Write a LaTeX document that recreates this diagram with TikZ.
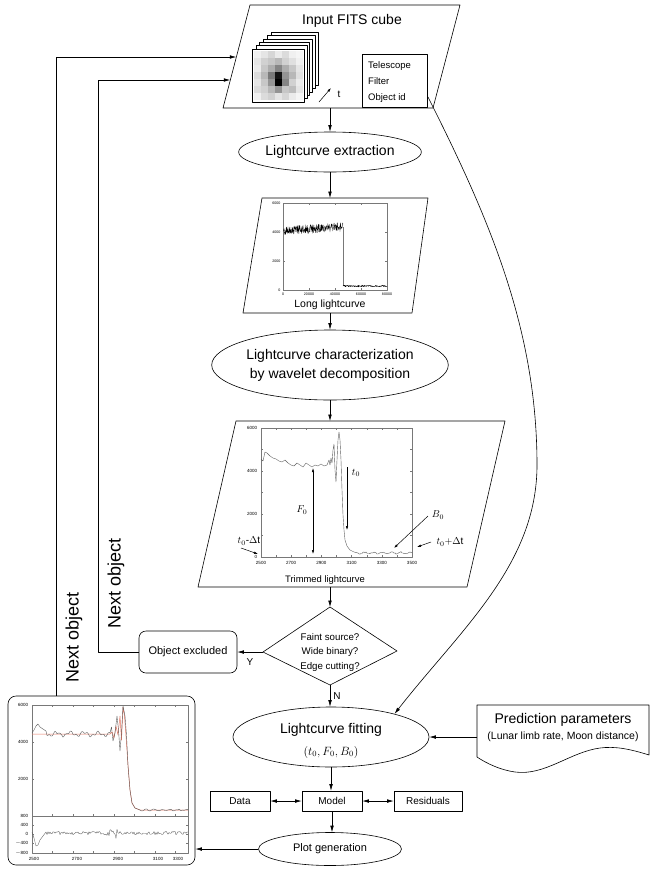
\documentclass[tikz,border=0pt]{standalone}
\usepackage{fontspec}
\setmainfont{Liberation Sans}
\usetikzlibrary{shapes.geometric,arrows.meta,calc}
\definecolor{modelred}{RGB}{232,120,100}
\definecolor{plotgray}{RGB}{120,120,120}
\definecolor{curvegray}{RGB}{95,95,95}
\newcommand{\myfs}[2]{\fontsize{#1}{#2}\selectfont}
\tikzset{
  lw/.style={line width=0.6pt},
  arr/.style={lw,-{Latex[length=6.5pt,width=3.6pt]}},
  darr/.style={lw,{Latex[length=6.5pt,width=3.6pt]}-{Latex[length=6.5pt,width=3.6pt]}},
  sarr/.style={line width=0.5pt,-{Latex[length=4pt,width=2.4pt]}},
  sdarr/.style={line width=0.5pt,{Latex[length=4pt,width=2.4pt]}-{Latex[length=4pt,width=2.4pt]}},
  ell/.style={ellipse,draw,lw,inner sep=0pt},
  smallbox/.style={rectangle,draw,lw,inner sep=0pt,minimum height=20pt,font=\myfs{10}{12}},
  tl/.style={font=\myfs{4.5}{5},inner sep=0.6pt},
  ttl/.style={font=\myfs{3.6}{4},inner sep=0.5pt},
  frame/.style={draw=plotgray,line width=0.35pt},
  tick/.style={draw=plotgray,line width=0.25pt},
  txt/.style={inner sep=0pt},
}
\begin{document}
\begin{tikzpicture}[x=1pt,y=-1pt,line join=round]
\useasboundingbox (0,0) rectangle (653,873);
\fill[white] (0,0) rectangle (653,873);

% ---------------- Input FITS cube ----------------
\draw[lw] (250,5) -- (460,5) -- (433,108) -- (223,108) -- cycle;
\node[txt,font=\myfs{14}{16}] (fitstitle) at (352,21) {Input FITS cube};
\coordinate (fitsS) at (330,108);
\coordinate (fitsL1) at (236.4,57);
\coordinate (fitsL2) at (230.3,80);
\coordinate (curveStart) at (428,97);
\foreach \k in {5,4,3,2,1} {
  \filldraw[fill=white,draw=black,line width=0.5pt] ({252+3.8*\k},{49-3.4*\k}) rectangle ({304+2.8*\k},{102-3.4*\k});
}
\filldraw[fill=white,draw=black,line width=0.5pt] (252,49) rectangle (304,102);
\foreach \v [count=\n from 0] in {6,10,16,8,14,6,4, 10,18,22,28,18,12,6, 8,22,32,48,32,22,10, 14,28,52,92,42,28,12, 10,22,42,100,48,18,8, 14,18,28,42,22,26,10, 6,14,18,10,16,8,4} {
  \pgfmathtruncatemacro{\rr}{floor(\n/7)}
  \pgfmathtruncatemacro{\cc}{\n-7*\rr}
  \fill[black!\v] ({253.5+\cc*7.0},{50.5+\rr*7.14}) rectangle ++(7.0,7.14);
}
\coordinate (ta) at (319,102);
\coordinate (tb) at (331,88);
\draw[sarr] (ta) -- (tb);
\node[txt,font=\myfs{10}{12}] (tlab) at (339,94) {t};
\node[draw,lw,minimum width=65pt,minimum height=53pt,inner sep=0pt] (info) at (394.5,80.5) {};
\node[txt,anchor=west,font=\myfs{9.5}{11}] (tel) at (368,66) {Telescope};
\node[txt,anchor=west,font=\myfs{9.5}{11}] (fil) at (368,81) {Filter};
\node[txt,anchor=west,font=\myfs{9.5}{11}] (oid) at (368,98) {Object id};

% ---------------- Lightcurve extraction ----------------
\node[ell,minimum width=178pt,minimum height=40pt,font=\myfs{14}{16}] (ext) at (330,152) {Lightcurve extraction};

% ---------------- Long lightcurve ----------------
\draw[lw] (262,198) -- (428,198) -- (412,313) -- (243,313) -- cycle;
\coordinate (longN) at (330,198);
\coordinate (longS) at (330,313);
\draw[frame] (283,203) rectangle (387,290);
\foreach \x in {283,309,335,361,387} {\draw[tick] (\x,290) -- (\x,288); \draw[tick] (\x,203) -- (\x,205);}
\foreach \y in {203,232,261,290} {\draw[tick] (283,\y) -- (285,\y); \draw[tick] (387,\y) -- (385,\y);}
\node[ttl,anchor=east] (ly6) at (281,203) {6000};
\node[ttl,anchor=east] (ly4) at (281,232) {4000};
\node[ttl,anchor=east] (ly2) at (281,261) {2000};
\node[ttl,anchor=east] (ly0) at (281,290) {0};
\node[ttl] (lx0) at (283,294) {0};
\node[ttl] (lx2) at (309,294) {20000};
\node[ttl] (lx4) at (335,294) {40000};
\node[ttl] (lx6) at (361,294) {60000};
\node[ttl] (lx8) at (387,294) {80000};
\pgfmathsetseed{11}
\draw[line width=0.3pt,black] (283,231) foreach \i in {1,...,240} { -- ({283+\i*0.25},{231-\i*0.018+4.5*rand}) };
\draw[plotgray,line width=0.3pt] (343,227) -- (343,286);
\draw[line width=0.5pt,black] (343,286) foreach \i in {1,...,88} { -- ({343+\i*0.5},{286+0.8*rand}) };
\node[txt,font=\myfs{10.5}{12}] (longlab) at (330,305) {Long lightcurve};

% ---------------- Characterization ----------------
\node[ell,minimum width=206pt,minimum height=70pt,align=center,font=\myfs{14}{19}] (char) at (330,365) {Lightcurve characterization\\by wavelet decomposition};

% ---------------- Trimmed lightcurve ----------------
\draw[lw] (236,421) -- (505,421) -- (467,587) -- (198,587) -- cycle;
\coordinate (trimN) at (330,421);
\coordinate (trimS) at (330,587);
\draw[frame] (261,428) rectangle (412,557);
\foreach \i in {0,...,10} {\draw[tick] ({261+\i*15.1},557) -- ({261+\i*15.1},555); \draw[tick] ({261+\i*15.1},428) -- ({261+\i*15.1},430);}
\foreach \i in {0,...,6} {\draw[tick] (261,{557-\i*21.5}) -- (263,{557-\i*21.5}); \draw[tick] (412,{557-\i*21.5}) -- (410,{557-\i*21.5});}
\node[tl,anchor=east] (ty6) at (258,428) {6000};
\node[tl,anchor=east] (ty4) at (258,471) {4000};
\node[tl,anchor=east] (ty2) at (258,514) {2000};
\node[tl,anchor=east] (ty0) at (258,557) {0};
\foreach \lab [count=\j from 0] in {2500,2700,2900,3100,3300,3500} {
  \node[tl] (tx\j) at ({261+\j*30.2},562.5) {\lab};
}
\draw[curvegray,line width=0.4pt] (261,459) -- (263,461) -- (265,452) -- (267,453) -- (270,456) -- (273,458) -- (276,459) -- (279,461) -- (282,462) -- (285,460) -- (288,463) -- (291,465) -- (294,466) -- (297,463) -- (300,465) -- (303,467) -- (306,463) -- (309,465) -- (312,467) -- (315,465) -- (318,466) -- (321,464) -- (324,466) -- (327,465) -- (329,460) -- (330,465) -- (331,458) -- (332,463) -- (333,450) -- (334,444) -- (335,470) -- (336,482) -- (337,460) -- (338,440) -- (339,432) -- (340,440) -- (341,460) -- (342,490) -- (343,515) -- (344,530) -- (345,540) -- (347,546) -- (350,550) -- (354,552) -- (358,553);
\draw[curvegray,line width=0.4pt] (358,553) foreach \i in {1,...,54} { -- ({358+\i},{553+0.8*sin(\i*40)+0.6*rand}) };
\coordinate (f0a) at (313,468);
\coordinate (f0b) at (313,554);
\draw[sdarr] (f0a) -- (f0b);
\node[txt,font=\myfs{10}{12}] (f0lab) at (302,510) {$F_0$};
\coordinate (t0a) at (347,467);
\coordinate (t0b) at (347,530);
\draw[sarr] (t0a) -- (t0b);
\node[txt,font=\myfs{10}{12}] (t0lab) at (356,473) {$t_0$};
\coordinate (b0a) at (428,516);
\coordinate (b0b) at (394,548);
\draw[sarr] (b0a) -- (b0b);
\node[txt,font=\myfs{10}{12}] (b0lab) at (438,515) {$B_0$};
\node[txt,font=\myfs{10}{12}] (tplab) at (450,542) {$t_0{+}\Delta\mathrm{t}$};
\coordinate (tpa) at (431,542);
\coordinate (tpb) at (417,547);
\draw[sarr] (tpa) -- (tpb);
\node[txt,font=\myfs{10}{12}] (tmlab) at (249,541) {$t_0$-$\Delta\mathrm{t}$};
\coordinate (tma) at (241,548);
\coordinate (tmb) at (258,554);
\draw[sarr] (tma) -- (tmb);
\node[txt,font=\myfs{9.4}{11}] (trimlab) at (325,580) {Trimmed lightcurve};

% ---------------- Decision ----------------
\coordinate (diaN) at (330,607);
\coordinate (diaW) at (263,652);
\coordinate (diaE) at (397,651);
\coordinate (diaS) at (330,685);
\draw[lw] (diaN) -- (diaE) -- (diaS) -- (diaW) -- cycle;
\node[txt,align=center,font=\myfs{9.7}{14.5}] (diatext) at (330,652) {Faint source?\\Wide binary?\\Edge cutting?};
\node[draw,lw,rounded corners=7pt,minimum width=98pt,minimum height=42pt,inner sep=0pt,font=\myfs{11}{13}] (excl) at (188,652) {Object excluded};

% ---------------- Fitting ----------------
\node[ell,minimum width=196pt,minimum height=60pt] (fit) at (331,737) {};
\node[txt,font=\myfs{14}{16}] (fitlab) at (331,730) {Lightcurve fitting};
\node[txt,font=\myfs{12}{14}] (fitpar) at (331,752) {$(t_0,F_0,B_0)$};

% ---------------- Prediction parameters ----------------
\draw[lw] (477,705) -- (649,705) -- (649,755) .. controls (630,749) and (615,746) .. (600,748) .. controls (570,752) and (545,776) .. (515,772) .. controls (500,770) and (486,763) .. (477,757) -- cycle;
\node[txt,font=\myfs{14}{16}] (predlab) at (563,720) {Prediction parameters};
\node[txt,font=\myfs{10.5}{12}] (predsub) at (563,737) {(Lunar limb rate, Moon distance)};
\coordinate (predW) at (477,737);

% ---------------- Model row ----------------
\node[smallbox,minimum width=60pt] (model) at (332,801) {Model};
\node[smallbox,minimum width=60pt] (data) at (240,801) {Data};
\node[smallbox,minimum width=68pt] (resid) at (428,801) {Residuals};
\node[ell,minimum width=143pt,minimum height=33pt,font=\myfs{11}{13}] (plotgen) at (330,849) {Plot generation};

% ---------------- Final plot ----------------
\node[draw,lw,rounded corners=8pt,minimum width=187pt,minimum height=169pt,inner sep=0pt] (plotbox) at (101.5,780.5) {};
\draw[frame] (32,705) rectangle (188,816);
\draw[frame] (32,816) rectangle (188,853);
\foreach \i in {0,...,7} {\draw[tick] ({32+\i*20.5},705) -- ({32+\i*20.5},707); \draw[tick] ({32+\i*20.5},853) -- ({32+\i*20.5},851); \draw[tick] ({32+\i*20.5},816) -- ({32+\i*20.5},814);}
\foreach \y in {742,779} {\draw[tick] (32,\y) -- (34,\y); \draw[tick] (188,\y) -- (186,\y);}
\foreach \y in {825,834,843} {\draw[tick] (32,\y) -- (34,\y); \draw[tick] (188,\y) -- (186,\y);}
\node[tl,anchor=east] (py6) at (29,705) {6000};
\node[tl,anchor=east] (py4) at (29,742) {4000};
\node[tl,anchor=east] (py2) at (29,779) {2000};
\node[tl,anchor=east] (py0) at (29,816) {800};
\node[tl,anchor=east] (pr4) at (29,825) {400};
\node[tl,anchor=east] (pr0) at (29,834) {0};
\node[tl,anchor=east] (prm4) at (29,843) {$-$400};
\node[tl,anchor=east] (prm8) at (29,853) {$-$800};
\node[tl] (px1) at (34,858.5) {2500};
\node[tl] (px2) at (77,858.5) {2700};
\node[tl] (px3) at (118,858.5) {2900};
\node[tl] (px4) at (158,858.5) {3100};
\node[tl] (px5) at (178,858.5) {3300};
\draw[modelred,line width=0.5pt] (32,734) -- (110,734) -- (112,732) -- (114,738) -- (116,726) -- (118,735) -- (120,716) -- (121.5,740) -- (123,707) -- (124.5,716) -- (126,736) -- (128,765) -- (130,790) -- (132,803) -- (135,808) -- (140,810) -- (188,810);
\draw[curvegray,line width=0.4pt] (32,733) -- (34,730) -- (36,726) -- (38,724) -- (40,727) -- (43,729) -- (46,731) foreach \i in {1,...,64} { -- ({46+\i},{734+1.8*sin(\i*26)+1.2*sin(\i*67+30)+0.6*rand}) } -- (111.5,727) -- (113,741) -- (115,733) -- (117,716) -- (118.5,730) -- (120,751) -- (121.5,733) -- (123,706) -- (125,716) -- (126.5,735) -- (128,766) -- (130,790) -- (132,803) -- (135,808) -- (140,810) foreach \i in {1,...,48} { -- ({140+\i},{810+0.6*sin(\i*45)+0.5*rand}) };
\draw[curvegray,line width=0.35pt] (32,832) -- (34,838) -- (36,846) -- (38,845) -- (40,840) -- (43,836) -- (46,832) foreach \i in {1,...,142} { -- ({46+\i},{833+(1.8+4*exp(-((\i-68)/6)^2))*rand}) };

% ---------------- Connectors ----------------
\draw[arr] (fitsS) -- (ext.north);
\draw[arr] (ext.south) -- (longN);
\draw[arr] (longS) -- (char.north);
\draw[arr] (char.south) -- (trimN);
\draw[arr] (trimS) -- (diaN);
\draw[arr] (diaW) -- (excl.east);
\node[txt,font=\myfs{10}{12}] (ylab) at (250,662) {Y};
\draw[arr] (diaS) -- (diaS |- fit.north);
\node[txt,font=\myfs{10}{12}] (nlab) at (337,696) {N};
\draw[arr] (predW) -- (fit.east);
\draw[arr] (fit.south) -- (fit.south |- model.north);
\draw[darr] (data) -- (model);
\draw[darr] (model) -- (resid);
\draw[arr] (model.south) -- (model.south |- plotgen.north);
\draw[arr] (plotgen.west) -- (plotgen.west -| plotbox.east);
\coordinate (outerC) at (56,57);
\coordinate (innerC) at (98,80);
\draw[arr] (plotbox.north -| outerC) -- (outerC) -- (fitsL1);
\draw[arr] (excl.west) -| (innerC) -- (fitsL2);
\node[txt,rotate=90,font=\myfs{18}{20}] (next1) at (74,637) {Next object};
\node[txt,rotate=90,font=\myfs{18}{20}] (next2) at (116,583) {Next object};
\coordinate (curveMid) at (537,465);
\draw[arr] (curveStart) .. controls (490,220) and (537,330) .. (curveMid) .. controls (537,565) and (460,630) .. (fit.20);
\end{tikzpicture}
\end{document}
